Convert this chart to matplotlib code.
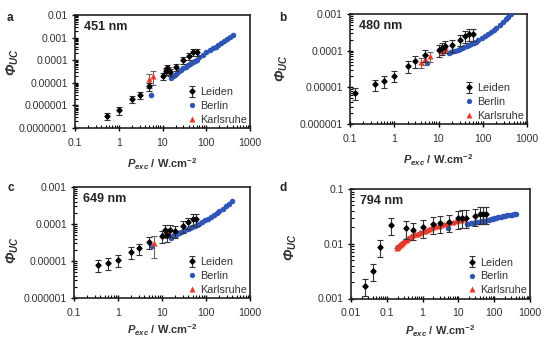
import matplotlib
matplotlib.use("Agg")
import matplotlib.pyplot as plt
from matplotlib.ticker import LogLocator, NullFormatter

plt.rcParams['font.family'] = ['Liberation Sans', 'DejaVu Sans']
plt.rcParams['mathtext.fontset'] = 'custom'
plt.rcParams['mathtext.rm'] = 'Liberation Sans'
plt.rcParams['mathtext.it'] = 'Liberation Sans:italic'
plt.rcParams['mathtext.bf'] = 'Liberation Sans:bold'
plt.rcParams['mathtext.bfit'] = 'Liberation Sans:bold:italic'

# ---- panel a : 451 nm ----
a_leiden_x = [0.55, 1.0, 2.0, 3.0, 5.0, 10, 12, 13, 15, 20, 30, 40, 50, 60]
a_leiden_y = [3.5e-7, 6e-7, 2e-6, 3e-6, 7e-6, 2e-5, 3.5e-5, 4.5e-5, 3e-5, 5e-5, 1e-4, 1.6e-4, 2.4e-4, 2.4e-4]
a_berlin_x = [5.5, 16, 17.5, 19, 21, 24, 27, 30, 34, 38, 42, 46, 50, 55, 60, 70, 85, 100,
              120, 140, 165, 190, 220, 260, 300, 350, 400]
a_berlin_y = [3e-6, 1.7e-5, 2e-5, 2.3e-5, 2.7e-5, 3.3e-5, 3.8e-5, 4.3e-5, 5.2e-5, 6e-5, 6.8e-5,
              7.5e-5, 8.5e-5, 9.5e-5, 1.05e-4, 1.35e-4, 1.75e-4, 2.2e-4, 2.7e-4, 3.3e-4, 4e-4,
              4.8e-4, 5.8e-4, 7e-4, 8.5e-4, 1.05e-3, 1.3e-3]
a_karl_x = [5.0, 6.0, 12, 13, 14]
a_karl_y = [1.5e-5, 2e-5, 3.5e-5, 4e-5, 4.5e-5]
a_karl_err = [0.6, 0.6, 0.15, 0.15, 0.15]

# ---- panel b : 480 nm ----
b_leiden_x = [0.13, 0.36, 0.58, 1.0, 2.0, 3.0, 5.0, 10, 12, 14, 20, 30, 40, 50, 60]
b_leiden_y = [7e-6, 1.2e-5, 1.5e-5, 2.1e-5, 3.8e-5, 5.2e-5, 7.6e-5, 1.05e-4, 1.2e-4, 1.35e-4,
              1.45e-4, 2e-4, 2.5e-4, 2.9e-4, 2.9e-4]
b_berlin_x = [5.5, 17, 19, 21, 24, 27, 30, 34, 38, 43, 48, 55, 62, 70, 80, 95, 110, 130, 150,
              175, 200, 240, 280, 330, 380, 440]
b_berlin_y = [4.5e-5, 8.5e-5, 9e-5, 9.5e-5, 1e-4, 1.05e-4, 1.1e-4, 1.2e-4, 1.25e-4, 1.3e-4,
              1.4e-4, 1.5e-4, 1.6e-4, 1.7e-4, 1.9e-4, 2.2e-4, 2.5e-4, 2.9e-4, 3.2e-4, 3.6e-4,
              4.1e-4, 5e-4, 6e-4, 7.2e-4, 8.4e-4, 9.8e-4]
b_karl_x = [4.0, 5.0, 6.5, 12, 13, 14]
b_karl_y = [4.8e-5, 5.8e-5, 7e-5, 1e-4, 1.1e-4, 1.2e-4]
b_karl_err = [0.3, 0.3, 0.3, 0.1, 0.1, 0.1]

# ---- panel c : 649 nm ----
c_leiden_x = [0.36, 0.58, 1.0, 2.0, 3.0, 5.0, 10, 12, 13, 15, 20, 30, 40, 50, 60]
c_leiden_y = [8e-6, 9e-6, 1.05e-5, 1.75e-5, 2.2e-5, 3.2e-5, 4.8e-5, 7e-5, 5e-5, 7e-5, 6.5e-5,
              8.8e-5, 1.1e-4, 1.4e-4, 1.4e-4]
c_berlin_x = [5.8, 16, 17.5, 19, 21, 24, 27, 30, 34, 38, 43, 48, 55, 62, 70, 80, 95, 110, 130,
              150, 175, 200, 240, 280, 330, 400]
c_berlin_y = [2.5e-5, 4.3e-5, 4.6e-5, 4.9e-5, 5.2e-5, 5.6e-5, 6e-5, 6.4e-5, 6.8e-5, 7.2e-5,
              7.7e-5, 8.2e-5, 8.8e-5, 9.3e-5, 1e-4, 1.1e-4, 1.25e-4, 1.4e-4, 1.55e-4, 1.7e-4,
              1.95e-4, 2.2e-4, 2.6e-4, 3e-4, 3.5e-4, 4.2e-4]
c_karl_x = [6.5, 12, 13, 14]
c_karl_y = [3e-5, 5e-5, 5.8e-5, 6.3e-5]
c_karl_err = [0.6, 0.15, 0.15, 0.15]

# ---- panel d : 794 nm ----
d_leiden_x = [0.025, 0.04, 0.065, 0.13, 0.35, 0.55, 1.0, 1.9, 3.0, 5.5, 10, 13, 16, 30, 40, 50, 60]
d_leiden_y = [0.0017, 0.0032, 0.0087, 0.022, 0.019, 0.018, 0.02, 0.023, 0.024, 0.025, 0.029,
              0.03, 0.03, 0.032, 0.035, 0.035, 0.035]
d_berlin_x = [5.2, 17, 19, 22, 25, 28, 32, 36, 40, 45, 50, 56, 63, 70, 80, 90, 100, 115, 130,
              150, 175, 200, 230, 270, 310, 360, 400]
d_berlin_y = [0.0195, 0.023, 0.0233, 0.0236, 0.024, 0.0243, 0.0247, 0.025, 0.0253, 0.0257,
              0.026, 0.0265, 0.027, 0.0275, 0.028, 0.0285, 0.029, 0.0297, 0.0303, 0.031,
              0.0317, 0.0323, 0.033, 0.0335, 0.034, 0.0345, 0.035]
d_karl_x = [0.19, 0.2, 0.21, 0.22, 0.23, 0.25, 0.27, 0.29, 0.31, 0.34, 0.37, 0.4, 0.44, 0.48,
            0.53, 0.6, 0.68, 0.77, 0.87, 1.0, 1.15, 1.3, 1.5, 1.75, 2.0, 2.4, 2.8, 3.3, 4.0,
            4.8, 5.8, 7.0, 8.5, 10, 12, 14]
d_karl_y = [0.0082, 0.0086, 0.009, 0.0093, 0.0096, 0.01, 0.0104, 0.0108, 0.0112, 0.0117,
            0.0122, 0.0127, 0.0132, 0.0137, 0.0142, 0.0148, 0.0153, 0.0158, 0.0163, 0.0168,
            0.0174, 0.018, 0.0186, 0.0193, 0.0199, 0.0207, 0.0214, 0.0221, 0.0229, 0.0237,
            0.0245, 0.0253, 0.0261, 0.0268, 0.0276, 0.0283]
d_karl_err = [0] * len(d_karl_x)

leiden_err = 0.35

BLUE = '#2f55b8'
RED = '#e8392b'


def draw_panel(ax, title, leiden_x, leiden_y, berlin_x, berlin_y, karl_x, karl_y,
               karl_err, xlabels, ylabels, ylab_pos, xpad):
    ly = [y * leiden_err for y in leiden_y]
    ke = [y * e for y, e in zip(karl_y, karl_err)]
    ax.plot(berlin_x, berlin_y, 'o', color=BLUE, ms=4.0, mec='none', zorder=3)
    ax.errorbar(karl_x, karl_y, yerr=ke, fmt='none', ecolor='#666666', elinewidth=0.8,
                capsize=2.2, capthick=0.8, zorder=4)
    ax.plot(karl_x, karl_y, '^', color=RED, ms=3.8, mec='none', zorder=4)
    hl = ax.errorbar(leiden_x, leiden_y, yerr=ly, fmt='D', color='black', ms=2.6,
                     ecolor='#333333', elinewidth=0.8, capsize=2.4, capthick=0.8, zorder=5)
    hb, = ax.plot([], [], 'o', color=BLUE, ms=3.8, mec='none')
    hk, = ax.plot([], [], '^', color=RED, ms=3.8, mec='none')

    xt = [float(s) for s in xlabels]
    yt = [float(s) for s in ylabels]
    ax.set_xscale('log')
    ax.set_yscale('log')
    ax.set_xlim(xt[0], xt[-1])
    ax.set_ylim(yt[0], yt[-1])
    ax.set_xticks(xt)
    ax.set_xticklabels(xlabels)
    ax.set_yticks(yt)
    ax.set_yticklabels(ylabels)
    ax.xaxis.set_minor_locator(LogLocator(base=10, subs=range(2, 10), numticks=20))
    ax.yaxis.set_minor_locator(LogLocator(base=10, subs=range(2, 10), numticks=20))
    ax.xaxis.set_minor_formatter(NullFormatter())
    ax.yaxis.set_minor_formatter(NullFormatter())
    ax.tick_params(which='major', direction='inout', length=4, width=1.0,
                   labelsize=7.6, colors='black', labelcolor='#333333')
    ax.tick_params(which='minor', direction='in', length=2.5, width=0.8)
    ax.tick_params(axis='x', pad=5)
    ax.tick_params(axis='y', pad=3)
    for s in ax.spines.values():
        s.set_linewidth(1.2)
        s.set_color('#222222')
    ax.set_ylabel(r'$\mathbfit{\Phi}_{\mathbfit{UC}}$', fontsize=10, color='#333333')
    ax.yaxis.set_label_coords(*ylab_pos)
    ax.set_xlabel(r'$\mathbfit{P}_{\mathbfit{exc}}$ / W.cm$^{\mathbf{-2}}$', fontsize=8,
                  fontweight='bold', color='#333333', labelpad=xpad)
    ax.text(0.05, 0.89, title, transform=ax.transAxes, fontsize=9, fontweight='bold',
            va='center', ha='left', color='#222222')
    ax.legend([hl, hb, hk], ['Leiden', 'Berlin', 'Karlsruhe'], loc='lower right', frameon=False,
              fontsize=7.8, handlelength=0.6, handletextpad=0.4, labelspacing=0.35,
              borderaxespad=0.1, borderpad=0.2, labelcolor='#333333')
    return ax


fig = plt.figure(figsize=(5.52, 3.39), dpi=100)
W, H = 552.0, 339.0


def make_axes(l, r, t, b):
    return fig.add_axes([l / W, 1 - b / H, (r - l) / W, (b - t) / H])


ax_a = make_axes(75, 250, 15, 128)
ax_b = make_axes(350, 527, 14, 124)
ax_c = make_axes(74, 250, 187, 298)
ax_d = make_axes(351, 530, 189, 298.5)

x_lab4 = ['0.1', '1', '10', '100', '1000']
draw_panel(ax_a, '451 nm', a_leiden_x, a_leiden_y, a_berlin_x, a_berlin_y,
           a_karl_x, a_karl_y, a_karl_err, x_lab4,
           ['0.0000001', '0.000001', '0.00001', '0.0001', '0.001', '0.01'], (-0.31, 0.58), 6)
draw_panel(ax_b, '480 nm', b_leiden_x, b_leiden_y, b_berlin_x, b_berlin_y,
           b_karl_x, b_karl_y, b_karl_err, x_lab4,
           ['0.000001', '0.00001', '0.0001', '0.001'], (-0.34, 0.51), 6)
draw_panel(ax_c, '649 nm', c_leiden_x, c_leiden_y, c_berlin_x, c_berlin_y,
           c_karl_x, c_karl_y, c_karl_err, x_lab4,
           ['0.000001', '0.00001', '0.0001', '0.001'], (-0.30, 0.43), 3.5)
draw_panel(ax_d, '794 nm', d_leiden_x, d_leiden_y, d_berlin_x, d_berlin_y,
           d_karl_x, d_karl_y, d_karl_err, ['0.01'] + x_lab4,
           ['0.001', '0.01', '0.1'], (-0.29, 0.47), 3.5)

for letter, (px, py) in zip('abcd', [(7, 18), (279, 18), (7, 188), (279, 188)]):
    fig.text(px / W, 1 - py / H, letter, fontsize=8.5, fontweight='bold', color='#222222',
             ha='left', va='center')

fig.savefig('out.png', dpi=100)
